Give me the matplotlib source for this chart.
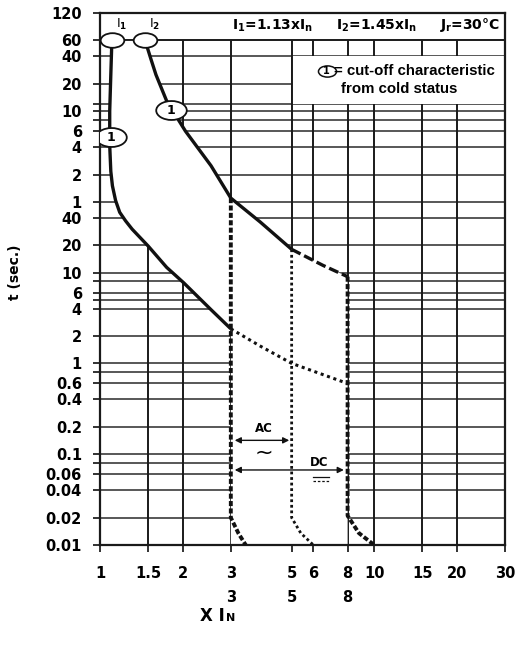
import matplotlib
matplotlib.use('Agg')
import matplotlib.pyplot as plt
from matplotlib.path import Path
from matplotlib.ticker import NullLocator
from matplotlib.transforms import Affine2D, blended_transform_factory

plt.rcParams['mathtext.fontset'] = 'custom'
plt.rcParams['mathtext.rm'] = 'DejaVu Sans:bold'
plt.rcParams['mathtext.it'] = 'DejaVu Sans:bold'
plt.rcParams['mathtext.bf'] = 'DejaVu Sans:bold'
plt.rcParams['mathtext.default'] = 'rm'

# x = multiple of In, t = seconds
lower_x = [1.105, 1.095, 1.085, 1.085, 1.095, 1.11, 1.14, 1.18, 1.24, 1.31, 1.50, 1.75, 2.02, 2.54, 3.0]
lower_t = [3600, 1500, 600, 250, 130, 90, 62, 46, 37, 30, 19.5, 11.4, 7.7, 3.9, 2.4]
lower_ext_x = [3.0, 3.84, 5.0, 8.0]
lower_ext_t = [2.4, 1.55, 1.0, 0.6]

upper_x = [1.46, 1.535, 1.60, 1.75, 2.05, 2.54, 3.0, 3.84, 5.0]
upper_t = [3600, 2220, 1505, 775, 360, 150, 66, 36, 18]
upper_ext_x = [5.0, 6.5, 8.0]
upper_ext_t = [18, 12, 9]

ac_lo_x = [3, 3, 3.2, 3.4]
ac_lo_t = [66, 0.02, 0.0134, 0.01]
ac_hi_x = [5, 5, 5.4, 6]
ac_hi_t = [18, 0.02, 0.0135, 0.01]
dc_hi_x = [8, 8, 8.8, 10]
dc_hi_t = [9, 0.021, 0.0135, 0.01]

mark_x = [1.095, 1.81]
mark_t = [308, 612]

# axis scales
x_ticks = [1, 1.5, 2, 3, 5, 6, 8, 10, 15, 20, 30]
x_ticks2 = [3, 5, 8]
sec_labels = [0.01, 0.02, 0.04, 0.06, 0.1, 0.2, 0.4, 0.6, 1, 2, 4, 6, 10, 20, 40]
min_labels = [1, 2, 4, 6, 10, 20, 40, 60, 120]
sec_extra = [0.08, 0.8, 5, 8]
min_extra = [8, 12]

fig = plt.figure(figsize=(5.25, 6.45), dpi=100)
ax = fig.add_axes([100 / 525, 1 - 545 / 645, 405 / 525, 532 / 645])
ax.set_xscale('log')
ax.set_yscale('log')
ax.set_xlim(1, 30)
ax.set_ylim(0.01, 7200)

ytick_pos, ytick_lab = [], []
for s in sec_labels:
    ytick_pos.append(s); ytick_lab.append('%g' % s)
for m in min_labels:
    ytick_pos.append(m * 60); ytick_lab.append('%g' % m)
for s in sec_extra:
    ytick_pos.append(s); ytick_lab.append('')
for m in min_extra:
    ytick_pos.append(m * 60); ytick_lab.append('')

tick_font = dict(family='DejaVu Sans', weight='bold', size=10.5)
ax.set_yticks(ytick_pos)
ax.set_yticklabels(ytick_lab, **tick_font)
ax.set_xticks(x_ticks)
ax.set_xticklabels(['%g' % v for v in x_ticks], **tick_font)
ax.xaxis.set_minor_locator(NullLocator())
ax.yaxis.set_minor_locator(NullLocator())
ax.tick_params(axis='both', direction='out', length=5, width=1.3, color='#222222')
ax.tick_params(axis='y', pad=8)
ax.tick_params(axis='x', pad=10)
for sp in ax.spines.values():
    sp.set_linewidth(1.6)
    sp.set_color('#1a1a1a')

# grid
top_t = min_labels[-2] * 60
ax.hlines([p for p in ytick_pos if p < 7200], 1, 30, color='#2a2a2a', lw=1.1, zorder=1)
ax.vlines(x_ticks[1:-1], 0.01, top_t, color='#1a1a1a', lw=1.4, zorder=1)

# white tripping band and legend box
band_x = lower_x + [3, 8] + upper_ext_x[::-1] + upper_x[::-1]
band_t = lower_t + [0.01, 0.01] + upper_ext_t[::-1] + upper_t[::-1]
ax.fill(band_x, band_t, color='white', lw=0, zorder=1.5)
ax.fill([5, 30, 30, 5], [720, 720, 2400, 2400], color='white', lw=0, zorder=1.5)
ax.vlines([5], 720, 2400, color='#1a1a1a', lw=1.4, zorder=1.6)
ax.hlines([top_t], 1, 30, color='#1a1a1a', lw=1.3, zorder=1.6)

# curves
ax.plot(lower_x, lower_t, color='#111111', lw=2.4, zorder=3, solid_capstyle='butt')
ax.plot(upper_x, upper_t, color='#111111', lw=2.4, zorder=3, solid_capstyle='butt')
ax.plot(upper_ext_x, upper_ext_t, color='#111111', lw=2.4, ls=(0, (3, 1.2)), zorder=3)
ax.plot(lower_ext_x, lower_ext_t, color='#111111', lw=2.2, ls=(0, (1, 1.2)), zorder=3)
ax.plot(ac_lo_x, ac_lo_t, color='#111111', lw=2.8, ls=(0, (1.3, 0.6)), zorder=3)
ax.plot(ac_hi_x, ac_hi_t, color='#111111', lw=2.0, ls=(0, (1, 1)), zorder=3)
ax.plot(dc_hi_x, dc_hi_t, color='#111111', lw=2.8, ls=(0, (1.3, 0.6)), zorder=3)

# markers
ell = Path.unit_circle().transformed(Affine2D().scale(1.0, 0.62))
ax.plot([lower_x[0], upper_x[0]], [3600, 3600], ls='none', marker=ell, ms=17,
        mfc='white', mec='#111111', mew=1.3, zorder=4)
for lab, xv in zip(['I$_1$', 'I$_2$'], [lower_x[0], upper_x[0]]):
    ax.annotate(lab, (xv, 3600), xytext=(3, 6), textcoords='offset points',
                fontsize=9, ha='left', va='bottom', zorder=5)
ax.plot(mark_x, mark_t, ls='none', marker=ell, ms=22, mfc='white', mec='#111111', mew=1.3, zorder=4)
for xv, tv in zip(mark_x, mark_t):
    ax.text(xv, tv, '1', fontsize=9, family='DejaVu Sans', weight='bold',
            ha='center', va='center', zorder=5)

# header
ax.text(0.988, 0.977, r'I$_1$=1.13xI$_n$     I$_2$=1.45xI$_n$     J$_r$=30°C',
        transform=ax.transAxes, ha='right', va='center', fontsize=10,
        family='DejaVu Sans', weight='bold', zorder=5)

# legend
ax.plot([0.560], [0.891], transform=ax.transAxes, ls='none', marker=ell, ms=13,
        mfc='white', mec='#111111', mew=1.1, zorder=4)
ax.text(0.560, 0.891, '1', transform=ax.transAxes, fontsize=7, family='DejaVu Sans',
        weight='bold', ha='center', va='center', zorder=5)
ax.text(0.578, 0.891, '= cut-off characteristic', transform=ax.transAxes, fontsize=10.8,
        family='Liberation Sans', weight='bold', ha='left', va='center', zorder=5)
ax.text(0.738, 0.857, 'from cold status', transform=ax.transAxes, fontsize=10.8,
        family='Liberation Sans', weight='bold', ha='center', va='center', zorder=5)

# AC / DC arrows
arr = dict(arrowstyle='<|-|>', lw=1.0, color='#111111', mutation_scale=9, shrinkA=0, shrinkB=0)
ax.annotate('', xy=(4.9, 0.142), xytext=(3.1, 0.142), arrowprops=arr, zorder=5)
ax.annotate('', xy=(7.75, 0.067), xytext=(3.1, 0.067), arrowprops=arr, zorder=5)
ax.text(3.95, 0.19, 'AC', fontsize=8.5, family='DejaVu Sans', weight='bold', ha='center', va='center')
ax.text(3.95, 0.104, '~', fontsize=16, family='DejaVu Sans', ha='center', va='center')
ax.text(6.3, 0.082, 'DC', fontsize=8.5, family='DejaVu Sans', weight='bold', ha='center', va='center')
ax.plot([6.0, 6.85], [0.056, 0.056], color='#111111', lw=0.9)
ax.plot([6.0, 6.85], [0.051, 0.051], color='#111111', lw=0.9, ls=(0, (2, 1.5)))

# second row of x labels and axis titles
tr = blended_transform_factory(ax.transData, ax.transAxes)
for v in x_ticks2:
    ax.text(v, -0.098, '%g' % v, transform=tr, ha='center', va='center', **tick_font)
fig.text(200 / 525, 1 - 621 / 645, 'X I', fontsize=12, family='DejaVu Sans', weight='bold',
         ha='left', va='baseline')
fig.text(226 / 525, 1 - 621 / 645, 'N', fontsize=8, family='DejaVu Sans', weight='bold',
         ha='left', va='baseline')
fig.text(15 / 525, 1 - 272 / 645, 't (sec.)', rotation=90, fontsize=10,
         family='DejaVu Sans', weight='bold', ha='center', va='center')

fig.savefig('out.png', dpi=100, facecolor='white')
